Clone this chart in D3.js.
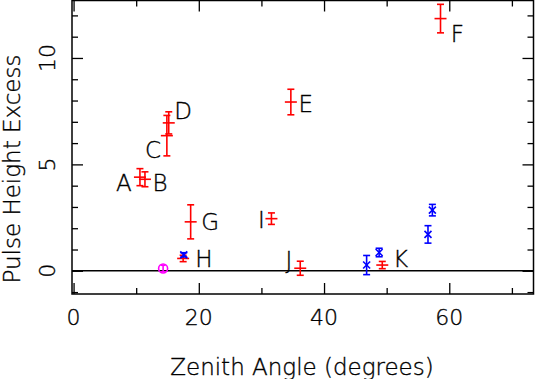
<!DOCTYPE html>
<html><head><meta charset="utf-8">
<script src="https://cdn.jsdelivr.net/npm/d3@7"></script>
<style>
body{margin:0;background:#fff;}
text{font-family:"DejaVu Sans",sans-serif;font-weight:200;fill:#000;stroke:#000;stroke-width:0.35px;}
</style></head>
<body><svg id="c" width="535" height="379"></svg>
<script>
// red points: [zenith, excess, error]
const redX   = [10.6, 11.4, 14.9, 15.2, 34.7, 58.6, 18.7, 17.5, 31.6, 36.2, 49.3];
const redY   = [4.4, 4.3, 6.35, 6.95, 7.93, 11.85, 2.3, 0.58, 2.45, 0.12, 0.27];
const redErr = [0.4, 0.35, 0.95, 0.52, 0.6, 0.67, 0.8, 0.15, 0.27, 0.33, 0.17];
// blue points
const blueX   = [17.6, 46.8, 48.8, 56.6, 57.3];
const blueY   = [0.75, 0.27, 0.86, 1.71, 2.85];
const blueErr = [0.1, 0.45, 0.2, 0.41, 0.27];
// magenta point
const magX = [14.3], magY = [0.11], magErr = [0.15];
// labels
const labelText = ["A","B","C","D","E","F","G","H","I","J","K"];
const labelX    = [8.05, 13.8, 12.7, 17.5, 37.1, 61.3, 21.8, 20.8, 30.0, 34.4, 52.2];
const labelY    = [4.16, 4.16, 5.67, 7.54, 7.86, 11.15, 2.3, 0.58, 2.38, 0.54, 0.58];
// ticks
const xMajor = [0, 20, 40, 60], xMinor = [10, 30, 50, 70];
const yMajor = [0, 5, 10], yMinor = [-1,1,2,3,4,6,7,8,9,11,12];

const svg = d3.select("#c");
const L=72, R=533.5, T=0.5, B=294;
const x = d3.scaleLinear().domain([-0.25, 73.45]).range([L, R]);
const y = d3.scaleLinear().domain([-1.09, 12.7]).range([B, T]);

function styleAxis(g){ g.select(".domain").remove(); g.selectAll("line").attr("stroke","#000").attr("stroke-width",1.3); }
svg.append("g").attr("transform",`translate(0,${B})`).call(d3.axisTop(x).tickValues(xMajor).tickSize(11).tickFormat("")).call(styleAxis);
svg.append("g").attr("transform",`translate(0,${B})`).call(d3.axisTop(x).tickValues(xMinor).tickSize(6).tickFormat("")).call(styleAxis);
svg.append("g").attr("transform",`translate(0,${T})`).call(d3.axisBottom(x).tickValues(xMajor).tickSize(11).tickFormat("")).call(styleAxis);
svg.append("g").attr("transform",`translate(0,${T})`).call(d3.axisBottom(x).tickValues(xMinor).tickSize(6).tickFormat("")).call(styleAxis);
svg.append("g").attr("transform",`translate(${L},0)`).call(d3.axisRight(y).tickValues(yMajor).tickSize(11).tickFormat("")).call(styleAxis);
svg.append("g").attr("transform",`translate(${L},0)`).call(d3.axisRight(y).tickValues(yMinor).tickSize(6).tickFormat("")).call(styleAxis);
svg.append("g").attr("transform",`translate(${R},0)`).call(d3.axisLeft(y).tickValues(yMajor).tickSize(11).tickFormat("")).call(styleAxis);
svg.append("g").attr("transform",`translate(${R},0)`).call(d3.axisLeft(y).tickValues(yMinor).tickSize(6).tickFormat("")).call(styleAxis);

svg.append("rect").attr("x",L).attr("y",T).attr("width",R-L).attr("height",B-T)
  .attr("fill","none").attr("stroke","#000").attr("stroke-width",1.5);

// tick labels
svg.selectAll(".xl").data(xMajor).enter().append("text")
  .attr("x",d=>x(d)).attr("y",325).attr("text-anchor","middle").attr("font-size",22).text(d=>d);
svg.selectAll(".yl").data(yMajor).enter().append("text")
  .attr("transform",d=>`translate(55,${y(d)}) rotate(-90)`).attr("text-anchor","middle").attr("font-size",22).text(d=>d);

// axis titles
svg.append("text").attr("x",302).attr("y",375).attr("text-anchor","middle").attr("font-size",23).text("Zenith Angle (degrees)");
svg.append("text").attr("transform","translate(20,169) rotate(-90)").attr("text-anchor","middle").attr("font-size",23).text("Pulse Height Excess");

// zero line
svg.append("line").attr("x1",L).attr("x2",R).attr("y1",y(0)).attr("y2",y(0)).attr("stroke","#000").attr("stroke-width",1.5);

function errbars(xs, ys, es, color, capW){
  const g = svg.append("g").attr("stroke",color).attr("stroke-width",1.6).attr("fill","none");
  xs.forEach((xv,i)=>{
    const px=x(xv), y1=y(ys[i]+es[i]), y2=y(ys[i]-es[i]);
    g.append("line").attr("x1",px).attr("x2",px).attr("y1",y1).attr("y2",y2);
    g.append("line").attr("x1",px-capW).attr("x2",px+capW).attr("y1",y1).attr("y2",y1);
    g.append("line").attr("x1",px-capW).attr("x2",px+capW).attr("y1",y2).attr("y2",y2);
  });
  return g;
}
const gr = errbars(redX, redY, redErr, "#ff0000", 3.5);
redX.forEach((xv,i)=>{
  gr.append("line").attr("x1",x(xv)-6).attr("x2",x(xv)+6).attr("y1",y(redY[i])).attr("y2",y(redY[i]));
});
const gb = errbars(blueX, blueY, blueErr, "#0000ff", 3.5);
blueX.forEach((xv,i)=>{
  const px=x(xv), py=y(blueY[i]), s=3.5;
  gb.append("line").attr("x1",px-s).attr("x2",px+s).attr("y1",py-s).attr("y2",py+s);
  gb.append("line").attr("x1",px-s).attr("x2",px+s).attr("y1",py+s).attr("y2",py-s);
});
const gm = errbars(magX, magY, magErr, "#ff00ff", 2.5);
magX.forEach((xv,i)=>{
  gm.append("circle").attr("cx",x(xv)).attr("cy",y(magY[i])).attr("r",4.5);
});

// labels
svg.selectAll(".lab").data(labelText).enter().append("text")
  .attr("x",(d,i)=>x(labelX[i])).attr("y",(d,i)=>y(labelY[i])).attr("dy","0.36em")
  .attr("text-anchor","middle").attr("font-size",23).text(d=>d);
</script></body></html>
